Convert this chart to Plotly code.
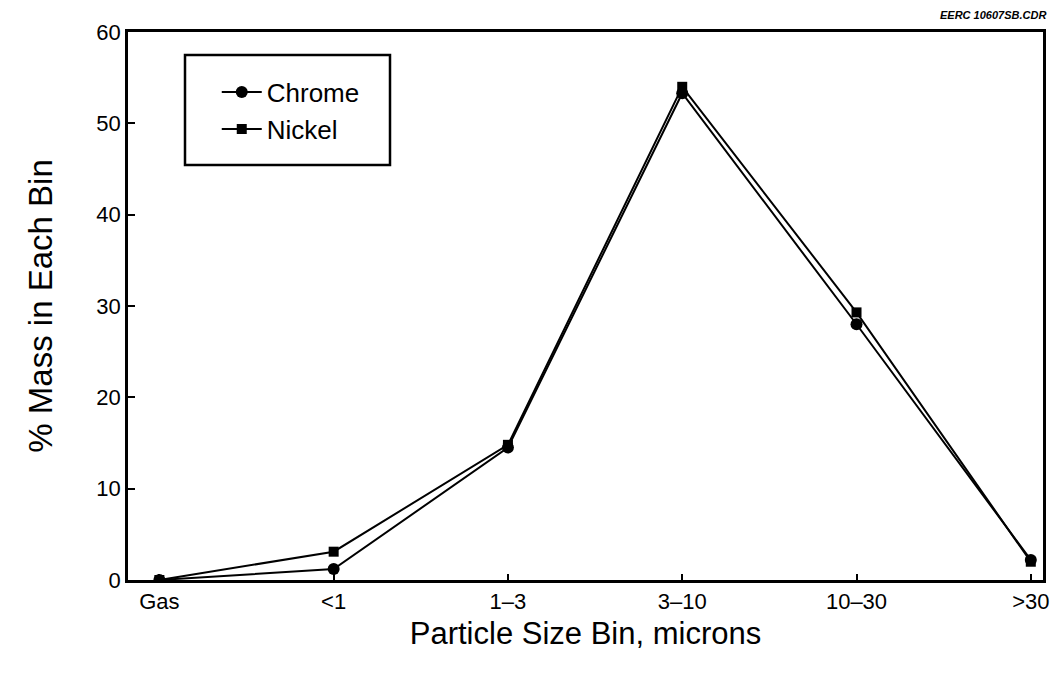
import plotly.graph_objects as go

categories = ["Gas", "<1", "1–3", "3–10", "10–30", ">30"]
chrome = [0.0, 1.2, 14.5, 53.3, 28.0, 2.2]
nickel = [0.0, 3.1, 14.8, 54.0, 29.3, 2.0]
y_ticks = [0, 10, 20, 30, 40, 50, 60]

xpos = list(range(len(categories)))
font = "Liberation Sans, Arial, Helvetica, sans-serif"

fig = go.Figure()
fig.add_trace(go.Scatter(
    x=xpos, y=chrome, name="Chrome", mode="lines+markers",
    line=dict(color="black", width=2),
    marker=dict(symbol="circle", size=12, color="black"),
))
fig.add_trace(go.Scatter(
    x=xpos, y=nickel, name="Nickel", mode="lines+markers",
    line=dict(color="black", width=2),
    marker=dict(symbol="square", size=10, color="black"),
))

# page body has an 8px margin, so plot area: x 128..1043, y 32..580 on screen
fig.update_layout(
    width=1060, height=676,
    margin=dict(l=120, r=25, t=24, b=104),
    paper_bgcolor="white", plot_bgcolor="white",
    font=dict(family=font, size=22, color="black"),
    showlegend=True,
    legend=dict(
        x=0.097, y=0.933, xanchor="left", yanchor="top",
        bgcolor="rgba(0,0,0,0)", borderwidth=0,
        font=dict(size=26), itemwidth=40,
    ),
    xaxis=dict(
        range=[-0.18, 5.07], tickvals=xpos, ticktext=categories,
        showline=True, linecolor="black", linewidth=2.5, mirror=True,
        ticks="inside", ticklen=6, tickcolor="black", tickwidth=1.5,
        showgrid=False, zeroline=False,
        tickfont=dict(size=22),
        title=dict(text="Particle Size Bin, microns", font=dict(size=31), standoff=10),
    ),
    yaxis=dict(
        range=[0, 60], tickvals=y_ticks,
        showline=True, linecolor="black", linewidth=2.5, mirror=True,
        ticks="inside", ticklen=7, tickcolor="black", tickwidth=1.5,
        showgrid=False, zeroline=False,
        tickfont=dict(size=22),
        title=dict(text="% Mass in Each Bin", font=dict(size=33), standoff=34),
    ),
    shapes=[dict(
        type="rect", xref="paper", yref="paper",
        x0=(185 - 128) / 915, x1=(390 - 128) / 915,
        y0=(580 - 165) / 548, y1=(580 - 55) / 548,
        line=dict(color="black", width=2.5), fillcolor="rgba(0,0,0,0)",
    )],
    annotations=[dict(
        text="<b><i>EERC 10607SB.CDR</i></b>", xref="paper", yref="paper",
        x=1.005, y=1.0, xanchor="right", yanchor="bottom", yshift=9,
        showarrow=False, font=dict(size=11, family=font),
    )],
)

fig.write_html("out.html")
